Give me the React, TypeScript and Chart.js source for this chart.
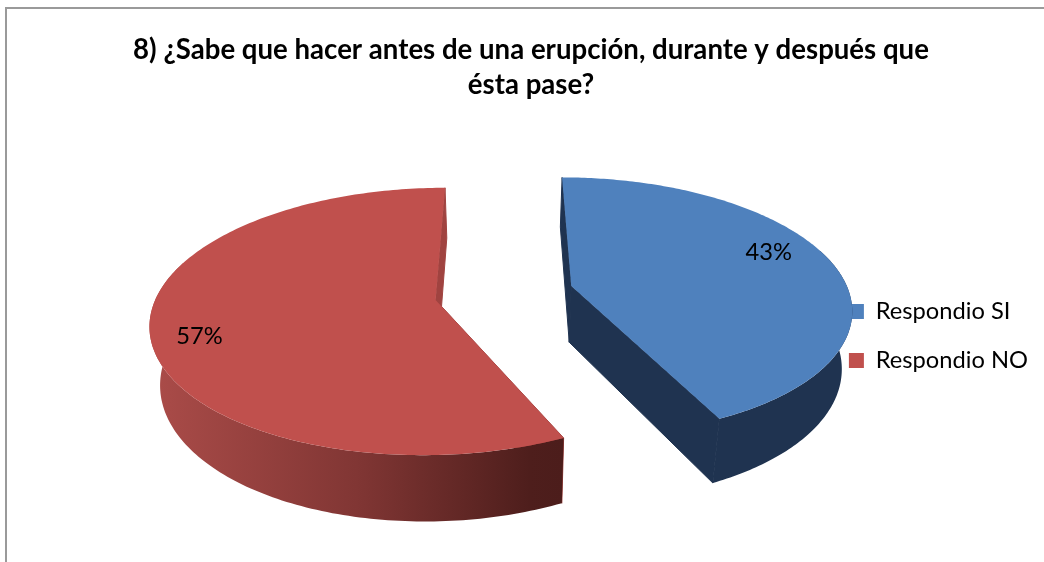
import React, { useEffect, useRef } from "react";
import { Chart, registerables } from "chart.js";

Chart.register(...registerables);

const categories = ["Respondio SI", "Respondio NO"];
const values = [43, 57];
const topColors = ["#4f81bd", "#c0504d"];
const titleLines = [
  "8) ¿Sabe que hacer antes de una erupción, durante y después que",
  "ésta pase?",
];

const FONT = "Lato, Carlito, sans-serif";

// Perspective camera for the tilted pie
const CX = 504;
const CY = 293;
const RADIUS = 278;
const SQUASH = 128;
const PERSP = 0.159;
const EXPLODE = 0.25;
const WALL_X = 0.97;
const WALL_Y = 1.06;
const WALL_DY = 39;

type P = { x: number; y: number };

const project = (X: number, Y: number): P => {
  const w = 1 - PERSP * Y;
  return { x: CX + (RADIUS * X) / w, y: CY + (SQUASH * Y) / w };
};
const lower = (p: P): P => ({
  x: CX + (p.x - CX) * WALL_X,
  y: p.y * WALL_Y + WALL_DY,
});

const pathOf = (ctx: CanvasRenderingContext2D, pts: P[]) => {
  ctx.beginPath();
  pts.forEach((p, i) => (i ? ctx.lineTo(p.x, p.y) : ctx.moveTo(p.x, p.y)));
  ctx.closePath();
};

const pie3d = {
  id: "pie3d",
  beforeDraw(chart: any) {
    const c = chart.ctx;
    // centre the title over the frame, which starts at its left line
    chart.titleBlock.left = 18;
    chart.titleBlock.right = 1044;
    c.save();
    c.strokeStyle = "#9a9a9a";
    c.lineWidth = 2;
    c.beginPath();
    c.moveTo(6, 562);
    c.lineTo(6, 8);
    c.lineTo(1044, 8);
    c.stroke();
    c.restore();
  },
  beforeDatasetDraw() {
    return false;
  },
  afterDatasetsDraw(chart: any) {
    const c: CanvasRenderingContext2D = chart.ctx;
    const arcs = chart.getDatasetMeta(0).data;
    c.save();
    arcs.forEach((arc: any, i: number) => {
      const { startAngle: a0, endAngle: a1 } = arc;
      const mid = (a0 + a1) / 2;
      const ox = Math.cos(mid) * EXPLODE;
      const oy = Math.sin(mid) * EXPLODE;
      const apex = project(ox, oy);
      const steps = 200;
      const rim: P[] = [];
      const front: P[] = [];
      for (let s = 0; s <= steps; s++) {
        const a = a0 + ((a1 - a0) * s) / steps;
        const p = project(ox + Math.cos(a), oy + Math.sin(a));
        rim.push(p);
        if (Math.sin(a) > -0.3) front.push(p);
      }
      // radial walls
      const sideFill = i === 0 ? "#1f3350" : "#a04340";
      c.fillStyle = sideFill;
      c.strokeStyle = sideFill;
      c.lineWidth = 1;
      pathOf(c, [apex, rim[0], lower(rim[0]), lower(apex)]);
      c.fill();
      c.stroke();
      pathOf(c, [apex, rim[steps], lower(rim[steps]), lower(apex)]);
      c.fill();
      c.stroke();
      // outer rim wall, the part that faces the viewer
      let wallFill: any = "#1f3350";
      if (i === 1) {
        const g = c.createLinearGradient(150, 0, 563, 0);
        g.addColorStop(0, "#ab4c49");
        g.addColorStop(0.5, "#813634");
        g.addColorStop(0.92, "#4e1e1c");
        g.addColorStop(1, "#4c1d1b");
        wallFill = g;
      }
      c.fillStyle = wallFill;
      pathOf(c, [...front, ...front.map(lower).reverse()]);
      c.fill();
      // top face
      c.fillStyle = topColors[i];
      pathOf(c, [apex, ...rim]);
      c.fill();
    });
    // percentage labels
    const total = values.reduce((s, v) => s + v, 0);
    const reach = [0.76, 0.83];
    const lift = [-13, 12];
    c.fillStyle = "#000000";
    c.font = `23.7px ${FONT}`;
    c.textAlign = "center";
    c.textBaseline = "middle";
    arcs.forEach((arc: any, i: number) => {
      const mid = (arc.startAngle + arc.endAngle) / 2;
      const r = EXPLODE + reach[i];
      const p = project(Math.cos(mid) * r, Math.sin(mid) * r);
      c.fillText(`${Math.round((values[i] / total) * 100)}%`, p.x, p.y + lift[i]);
    });
    c.restore();
  },
};

export default function App() {
  const ref = useRef<HTMLCanvasElement | null>(null);
  useEffect(() => {
    if (!ref.current) return;
    const chart = new Chart(ref.current, {
      type: "pie",
      data: {
        labels: categories,
        datasets: [
          { data: values, backgroundColor: topColors, borderWidth: 0, clip: false } as any,
        ],
      },
      plugins: [pie3d as any],
      options: {
        responsive: false,
        animation: false,
        layout: { padding: { left: 0, right: 6, top: 33, bottom: 0 } },
        plugins: {
          tooltip: { enabled: false },
          title: {
            display: true,
            text: titleLines,
            color: "#000000",
            font: { family: FONT, size: 27.6, weight: "bold", lineHeight: "35px" as any },
            padding: { top: 0, bottom: 7 },
          },
          legend: {
            position: "right",
            fullSize: false,
            labels: {
              color: "#000000",
              font: { family: FONT, size: 23.7 },
              boxWidth: 15,
              boxHeight: 15,
              padding: 25.3,
            },
          },
        },
      },
    });
    return () => chart.destroy();
  }, []);
  return (
    <div style={{ position: "absolute", left: 0, top: 0, width: 1044, height: 562, background: "#fff", overflow: "hidden" }}>
      <canvas ref={ref} width={1044} height={562} style={{ display: "block" }} />
    </div>
  );
}
